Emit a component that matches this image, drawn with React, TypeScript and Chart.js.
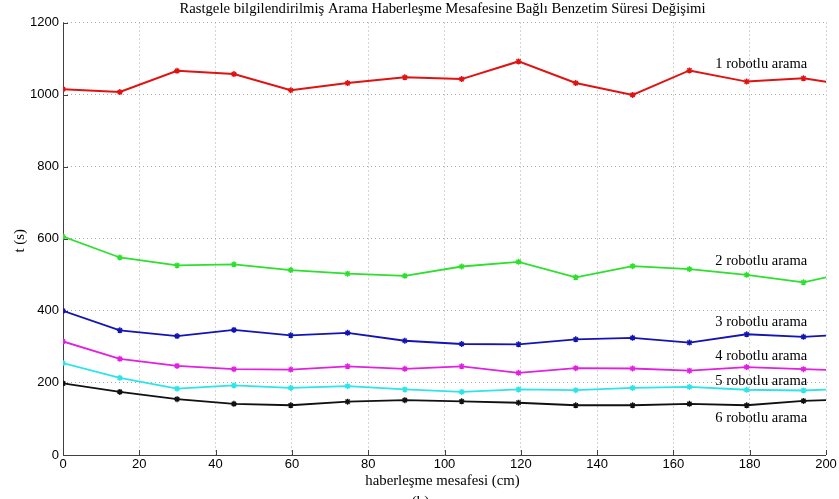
import React, { useEffect, useRef } from "react";
import { Chart, registerables } from "chart.js";

Chart.register(...registerables);

// Communication distance (cm) at which each simulation was run
const distance = [0, 14.9, 29.9, 44.8, 59.7, 74.6, 89.6, 104.5, 119.4, 134.4, 149.3, 164.2, 179.2, 194.1, 209];

// Simulation time t (s) per robot count
const robot1 = [1015, 1007, 1066, 1057, 1012, 1032, 1048, 1043, 1092, 1032, 999, 1067, 1036, 1045, 1022];
const robot2 = [606, 548, 526, 529, 513, 503, 497, 523, 536, 493, 524, 516, 500, 479, 514];
const robot3 = [400, 346, 330, 347, 332, 339, 317, 308, 307, 321, 325, 312, 335, 328, 336];
const robot4 = [315, 267, 247, 238, 237, 246, 239, 246, 228, 241, 240, 234, 244, 238, 233];
const robot5 = [255, 214, 184, 193, 186, 191, 182, 175, 182, 180, 186, 189, 181, 179, 185];
const robot6 = [199, 175, 155, 142, 138, 148, 152, 149, 145, 138, 138, 142, 138, 150, 155];

const seriesNames = [
  "1 robotlu arama",
  "2 robotlu arama",
  "3 robotlu arama",
  "4 robotlu arama",
  "5 robotlu arama",
  "6 robotlu arama",
];

const xTicks = [0, 20, 40, 60, 80, 100, 120, 140, 160, 180, 200];
const yTicks = [0, 200, 400, 600, 800, 1000, 1200];

const titleText = "Rastgele bilgilendirilmiş Arama Haberleşme Mesafesine Bağlı Benzetim Süresi Değişimi";
const xTitle = "haberleşme mesafesi (cm)";
const yTitle = "t (s)";
const panelTag = "(b)";

// Where each series name is written, in axis units
const labelAnchorX = 171;
const labelAnchorY = [1075, 526, 358, 263, 194, 91];

const colors = ["#e01212", "#2ee02e", "#1414b4", "#e022e0", "#2ee4e8", "#111111"];

const SERIF = '"Liberation Serif", "Times New Roman", serif';
const SANS = '"Liberation Sans", Arial, sans-serif';

const decorPlugin = {
  id: "decor",
  beforeDatasetsDraw(chart: any) {
    const { ctx, chartArea, scales } = chart;
    const { left, bottom, top } = chartArea;
    ctx.save();
    ctx.setLineDash([]);
    ctx.strokeStyle = "#404040";
    ctx.lineWidth = 1;
    ctx.beginPath();
    ctx.moveTo(Math.round(left) + 0.5, top);
    ctx.lineTo(Math.round(left) + 0.5, bottom);
    ctx.moveTo(left, Math.round(bottom) + 0.5);
    ctx.lineTo(chartArea.right, Math.round(bottom) + 0.5);
    // inward tick marks
    for (const v of xTicks) {
      const px = Math.round(scales.x.getPixelForValue(v)) + 0.5;
      ctx.moveTo(px, bottom);
      ctx.lineTo(px, bottom - 5);
    }
    for (const v of yTicks) {
      const py = Math.round(scales.y.getPixelForValue(v)) + 0.5;
      ctx.moveTo(left, py);
      ctx.lineTo(left + 5, py);
    }
    ctx.stroke();
    ctx.restore();
  },
  afterDatasetsDraw(chart: any) {
    const { ctx, scales } = chart;
    ctx.save();
    ctx.fillStyle = "#000";
    ctx.font = `14.5px ${SERIF}`;
    ctx.textAlign = "left";
    ctx.textBaseline = "alphabetic";
    seriesNames.forEach((name, i) => {
      ctx.fillText(name, scales.x.getPixelForValue(labelAnchorX), scales.y.getPixelForValue(labelAnchorY[i]));
    });
    ctx.restore();
  },
  afterDraw(chart: any) {
    const { ctx, chartArea } = chart;
    const cx = (chartArea.left + chartArea.right) / 2;
    ctx.save();
    ctx.fillStyle = "#000";
    ctx.textBaseline = "alphabetic";
    ctx.textAlign = "center";
    ctx.font = `14.7px ${SERIF}`;
    ctx.fillText(titleText, cx - 2, 13);
    ctx.font = `14.8px ${SERIF}`;
    ctx.fillText(xTitle, cx - 2, 485);
    ctx.fillText(panelTag, cx - 24, 506);
    ctx.translate(20, chartArea.top + (chartArea.bottom - chartArea.top) / 2 + 2);
    ctx.rotate(-Math.PI / 2);
    ctx.textBaseline = "middle";
    ctx.fillText(yTitle, 0, 0);
    ctx.restore();
  },
};

const series = [robot1, robot2, robot3, robot4, robot5, robot6];

export default function App() {
  const canvasRef = useRef<HTMLCanvasElement | null>(null);

  useEffect(() => {
    if (!canvasRef.current) return;
    const chart = new Chart(canvasRef.current, {
      type: "line",
      data: {
        datasets: series.map((vals, i) => ({
          label: seriesNames[i],
          data: vals.map((v, j) => ({ x: distance[j], y: v })),
          borderColor: colors[i],
          backgroundColor: colors[i],
          borderWidth: i === 0 ? 2 : 1.8,
          pointStyle: "star",
          pointRadius: 3,
          pointBorderWidth: 1.4,
          pointBorderColor: colors[i],
          tension: 0,
          fill: false,
        })),
      },
      options: {
        animation: false,
        responsive: false,
        maintainAspectRatio: false,
        layout: { padding: { left: 0, right: 13, top: 22.5, bottom: 0 } },
        plugins: {
          legend: { display: false },
          title: { display: false },
          tooltip: { enabled: false },
        },
        scales: {
          x: {
            type: "linear",
            min: 0,
            max: 200,
            afterBuildTicks: (scale: any) => {
              scale.ticks = xTicks.map((v) => ({ value: v }));
            },
            afterFit: (scale: any) => {
              scale.height = 44;
            },
            ticks: {
              color: "#000",
              font: { family: SANS, size: 13 },
              padding: 2,
              maxRotation: 0,
              autoSkip: false,
              callback: (v: any) => String(v),
            },
            grid: { color: "#a8a8a8", lineWidth: 1, drawTicks: false },
            border: { display: false, dash: [1, 3] },
          },
          y: {
            type: "linear",
            min: 0,
            max: 1200,
            afterBuildTicks: (scale: any) => {
              scale.ticks = yTicks.map((v) => ({ value: v }));
            },
            afterFit: (scale: any) => {
              scale.width = 63;
            },
            ticks: {
              color: "#000",
              font: { family: SANS, size: 13 },
              padding: 4,
              autoSkip: false,
              callback: (v: any) => String(v),
            },
            grid: { color: "#a8a8a8", lineWidth: 1, drawTicks: false },
            border: { display: false, dash: [1, 3] },
          },
        },
      },
      plugins: [decorPlugin],
    });
    return () => chart.destroy();
  }, []);

  return (
    <div style={{ position: "fixed", left: 0, top: 0, width: 839, height: 499, background: "#fff" }}>
      <canvas ref={canvasRef} width={839} height={499} style={{ display: "block" }} />
    </div>
  );
}
